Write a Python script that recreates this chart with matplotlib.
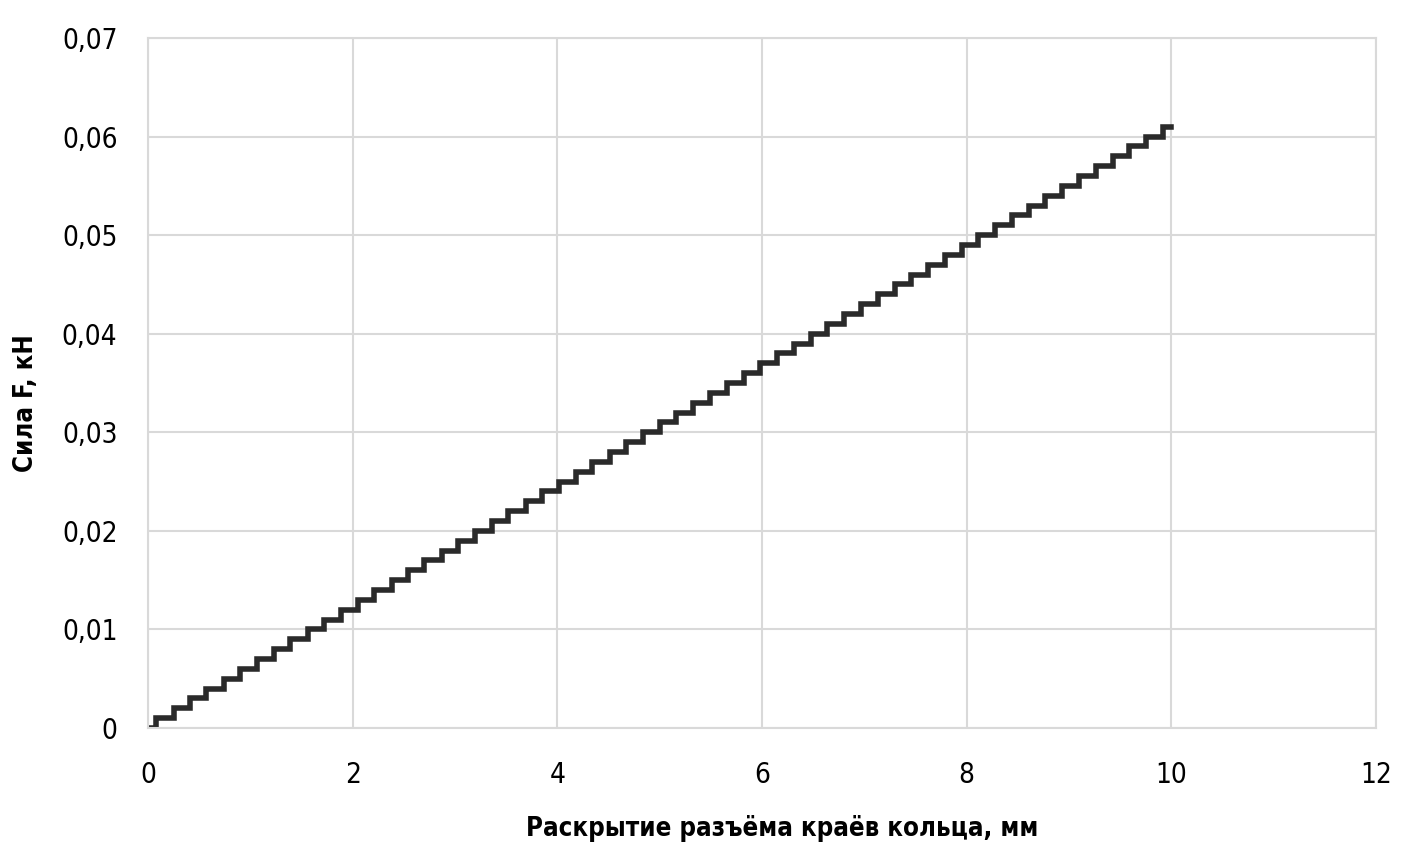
import matplotlib.pyplot as plt
from matplotlib.ticker import FuncFormatter

# opening of the ring gap, mm (points where the rounded force steps up)
x_mm = [0.02, 0.08, 0.25, 0.41, 0.57, 0.74, 0.90, 1.07, 1.23, 1.39, 1.56,
        1.72, 1.89, 2.05, 2.21, 2.38, 2.54, 2.70, 2.87, 3.03, 3.20,
        3.36, 3.52, 3.69, 3.85, 4.02, 4.18, 4.34, 4.51, 4.67, 4.84,
        5.00, 5.16, 5.33, 5.49, 5.66, 5.82, 5.98, 6.15, 6.31, 6.48,
        6.64, 6.80, 6.97, 7.13, 7.30, 7.46, 7.62, 7.79, 7.95, 8.11,
        8.28, 8.44, 8.61, 8.77, 8.93, 9.10, 9.26, 9.43, 9.59, 9.75,
        9.92, 10.00]
# force, kN
force_kn = [0.000, 0.001, 0.002, 0.003, 0.004, 0.005, 0.006, 0.007, 0.008,
            0.009, 0.010, 0.011, 0.012, 0.013, 0.014, 0.015, 0.016, 0.017,
            0.018, 0.019, 0.020, 0.021, 0.022, 0.023, 0.024, 0.025, 0.026,
            0.027, 0.028, 0.029, 0.030, 0.031, 0.032, 0.033, 0.034, 0.035,
            0.036, 0.037, 0.038, 0.039, 0.040, 0.041, 0.042, 0.043, 0.044,
            0.045, 0.046, 0.047, 0.048, 0.049, 0.050, 0.051, 0.052, 0.053,
            0.054, 0.055, 0.056, 0.057, 0.058, 0.059, 0.060, 0.061, 0.061]

x_ticks = [0, 2, 4, 6, 8, 10, 12]
y_ticks = [0, 0.01, 0.02, 0.03, 0.04, 0.05, 0.06, 0.07]

plt.rcParams['font.family'] = ['DejaVu Sans']
plt.rcParams['font.stretch'] = 'condensed'

fig = plt.figure(figsize=(14.07, 8.52), dpi=100)
ax = fig.add_axes([148 / 1407, 1 - 728 / 852, (1376 - 148) / 1407, (728 - 38) / 852])

ax.plot(x_mm, force_kn, drawstyle='steps-post', color='#2a2a2a',
        linewidth=4, solid_joinstyle='miter')

ax.set_xlim(0, 12)
ax.set_ylim(0, 0.07)
ax.set_xticks(x_ticks)
ax.set_yticks(y_ticks)
ax.xaxis.set_major_formatter(FuncFormatter(lambda v, p: f'{v:g}'))
ax.yaxis.set_major_formatter(
    FuncFormatter(lambda v, p: '0' if v == 0 else f'{v:.2f}'.replace('.', ',')))

ax.grid(True, color='#d9d9d9', linewidth=1.5)
ax.set_axisbelow(True)
for s in ax.spines.values():
    s.set_color('#d9d9d9')
    s.set_linewidth(1.5)
ax.tick_params(length=0, labelsize=20, colors='black')
ax.tick_params(axis='x', pad=24)
ax.tick_params(axis='y', pad=22)

ax.set_xlabel('Раскрытие разъёма краёв кольца, мм', fontsize=18.5,
              fontweight='bold')
ax.set_ylabel('Сила F, кН', fontsize=18.5, fontweight='bold')
ax.xaxis.set_label_coords(634 / 1228, -(828 - 728) / 690)
ax.yaxis.set_label_coords(-(148 - 26) / 1228, (728 - 403) / 690)
ax.xaxis.label.set_va('center')
ax.yaxis.label.set_va('center')

fig.savefig('out.png', dpi=100)
